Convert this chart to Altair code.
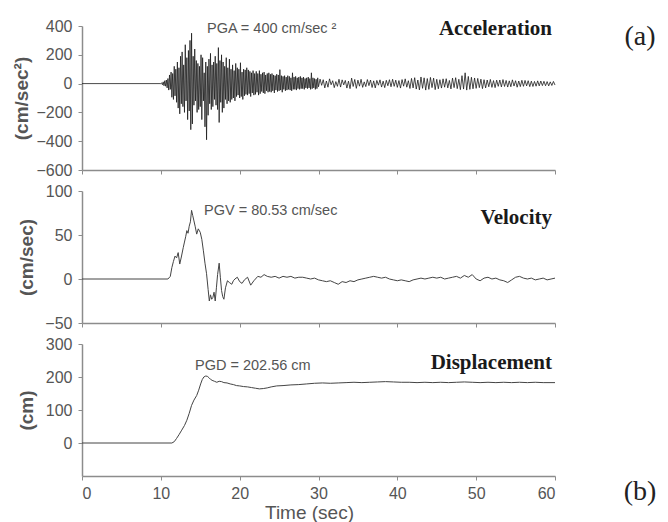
import altair as alt
import pandas as pd

# ---------------- data ----------------
# Acceleration (cm/sec^2): quiet part, then 10.0-29.9 s every 0.1 s, then 30-60 s every 0.2 s
acc_quiet_t = [0.0, 9.9]
acc_quiet_v = [0, 0]
acc_strong = [
    0, 5, -8, 12, -15, 20, -18, 25, -30, 35,
    -45, 60, -40, 80, -95, 70, -110, 120, -85, 100,
    -130, 150, -170, 110, -210, 190, -140, 220, -160, 130,
    -200, 270, -120, 180, -250, 230, -190, 300, -320, 350,
    -280, 190, -150, 240, -120, 160, -200, 140, -180, 120,
    -160, 200, -250, 180, -120, 75, -300, 150, -390, 120,
    -220, 170, -140, 210, -180, 130, -160, 150, -110, 190,
    -150, 140, -180, 250, -270, 160, -130, 200, -200, 150,
    -170, 120, -110, 180, -140, 110, -120, 170, -130, 100,
    -110, 130, -100, 90, -120, 140, -90, 110, -80, 100,
    -100, 145, -90, 80, -110, 100, -85, 95, -75, 110,
    -80, 95, -70, 85, -90, 75, -65, 90, -80, 70,
    -75, 85, -60, 70, -80, 90, -70, 65, -55, 75,
    -65, 80, -70, 60, -50, 70, -60, 75, -55, 65,
    -60, 70, -50, 60, -65, 55, -45, 65, -55, 60,
    -50, 97, -45, 55, -60, 50, -40, 55, -50, 45,
    -45, 55, -40, 50, -45, 40, -50, 75, -40, 45,
    -40, 50, -45, 40, -35, 45, -40, 50, -35, 40,
    -35, 45, -40, 35, -30, 40, -35, 45, -30, 35,
    -40, 75, -35, 40, -30, 35, -40, 30, -35, 40,
]
acc_coda = [
    -22, 31, -12, 27, -30, 18, -25, 33, -8, 20,
    -28, 14, -19, 30, -24, 26, -9, 22, -31, 17,
    -35, 38, -20, 29, -33, 24, -18, 30, -26, 12,
    -21, 28, -14, 25, -27, 19, -30, 22, -11, 26,
    -24, 17, -28, 23, -15, 27, -22, 30, -19, 24,
    -26, 21, -31, 28, -18, 33, -25, 20, -34, 36,
    -30, 41, -38, 25, -44, 46, -33, 40, -45, 35,
    -40, 43, -28, 38, -42, 30, -36, 27, -31, 33,
    -25, 34, -30, 22, -37, 38, -28, 41, -35, 30,
    -42, 55, -38, 75, -45, 50, -40, 44, -36, 39,
    -33, 36, -28, 31, -35, 27, -30, 25, -22, 29,
    -26, 21, -28, 24, -19, 25, -23, 28, -20, 22,
    -24, 19, -22, 26, -17, 20, -25, 18, -21, 23,
    -19, 22, -16, 20, -21, 17, -20, 15, -18, 19,
    -16, 18, -14, 16, -15, 14, -16, 12, -13, 15,
    -10,
]

# Velocity (cm/sec)
vel_early_t = [0.0, 10.9, 11.2, 11.4, 11.6, 11.8, 12.0, 12.2, 12.4, 12.6, 12.85, 13.0,
               13.15, 13.3, 13.45, 13.6, 13.75, 13.9, 14.05, 14.2, 14.35, 14.55, 14.75,
               15.0, 15.2, 15.4, 15.6, 15.8, 16.0, 16.15, 16.3, 16.45, 16.6, 16.75, 16.9,
               17.05, 17.2, 17.4, 17.55, 17.7, 17.85, 18.0, 18.2, 18.45, 18.7, 19.0, 19.2,
               19.4, 19.7, 20.0, 20.3, 20.6, 21.0, 21.4, 21.8, 22.3, 22.7, 23.1, 23.5]
vel_early_v = [0, 0, 3, 13, 20, 26, 24, 30, 17, 25, 36, 42,
               48, 55, 52, 60, 65, 78, 72, 66, 60, 51, 57,
               53, 45, 32, 18, 6, -12, -25, -18, -23, -21, -15, -25,
               -10, 5, 18, 2, -13, -20, -23, -10, -2, -4, -6, -2,
               0, 2, -3, -5, -1, 2, -7, -2, 3, 2, 5, 3]
# 24-60 s every 0.5 s
vel_late = [2, 3, 1, 3, 2, 3, 1, 2, 2, 1, 0, 1, -1, -2, -3, -2, -4, -6, -3, -4,
            -2, -3, -1, 0, 1, 2, 3, 2, 1, 2, 0, -1, -2, -1, -2, -3, -1, 0, 1, 0,
            1, 2, 1, 2, 0, 1, 2, 3, 1, 4, 2, 5, 0, -2, 1, 2, 0, 1, -1, -2,
            -4, -1, 2, 3, 1, 0, 1, -1, 0, 1, -1, 0, 1]

# Displacement (cm)
disp_t = [0.0, 11.4, 11.7, 12.0, 12.3, 12.65, 13.0, 13.3, 13.6, 13.9, 14.2, 14.55, 14.8,
          15.05, 15.25, 15.45, 15.7, 15.9, 16.1, 16.3, 16.5, 16.8, 17.1, 17.4, 17.7, 18.0,
          18.4, 18.8, 19.2, 19.6, 20.0, 20.5, 21.0, 21.5, 22.0, 22.5, 23.0, 23.5, 24.0,
          24.7, 25.5, 26.5, 27.5, 28.5, 29.5, 30.5, 31.5, 32.5, 33.5, 34.5, 35.5, 36.5,
          37.5, 38.5, 39.5, 40.5, 41.5, 42.5, 43.5, 44.5, 45.5, 46.5, 47.5, 48.5, 49.5,
          50.5, 51.5, 52.5, 53.5, 54.5, 55.5, 56.5, 57.5, 58.5, 60.0]
disp_v = [0, 0, 4, 14, 25, 39, 53, 69, 90, 114, 130, 144, 160,
          179, 192, 200, 203, 202, 198, 193, 190, 187, 184, 187, 186, 183,
          182, 179, 177, 174, 173, 171, 170, 168, 166, 164, 165, 167, 170,
          173, 174, 176, 177, 179, 181, 182, 181, 182, 183, 184, 183, 184,
          185, 186, 185, 184, 184, 183, 184, 183, 184, 183, 184, 185, 184,
          183, 184, 183, 184, 183, 184, 183, 184, 183, 183]

x_ticks = [0, 10, 20, 30, 40, 50, 60]

# ---------------- tables ----------------
acc_t = acc_quiet_t + [round(10.0 + 0.1 * i, 2) for i in range(len(acc_strong))] \
    + [round(30.0 + 0.2 * i, 2) for i in range(len(acc_coda))]
acc_v = acc_quiet_v + acc_strong + acc_coda
acc_df = pd.DataFrame({"t": acc_t, "v": acc_v})

vel_t = vel_early_t + [round(24.0 + 0.5 * i, 2) for i in range(len(vel_late))]
vel_v = vel_early_v + vel_late
vel_df = pd.DataFrame({"t": vel_t, "v": vel_v})

disp_df = pd.DataFrame({"t": disp_t, "v": disp_v})

W = 473
SANS = "Liberation Sans"
SERIF = "Liberation Serif"
one = pd.DataFrame({"k": [0]})


def panel(df, ydom, yvals, ytitle, title_x, h, color, sw, name, name_y,
          ann, ann_x, ann_y, bottom=False, tag=None, tag_y=0):
    xaxis = alt.Axis(values=x_ticks, labels=bottom, title="Time (sec)" if bottom else None,
                     titleX=227, titlePadding=2, labelPadding=5, titleFontWeight="normal",
                     titleFontSize=19)
    line = alt.Chart(df).mark_line(color=color, strokeWidth=sw).encode(
        x=alt.X("t:Q", scale=alt.Scale(domain=[0, 60], nice=False, zero=False), axis=xaxis),
        y=alt.Y("v:Q", scale=alt.Scale(domain=ydom, nice=False, zero=False),
                axis=alt.Axis(values=yvals, title=ytitle, titleX=title_x,
                              titleBaseline="middle", labelPadding=6)),
    )
    lbl = alt.Chart(one).mark_text(text=name, align="right", baseline="middle", font=SERIF,
                                   fontWeight="bold", fontSize=21, color="#1a1a1a").encode(
        x=alt.value(W - 3), y=alt.value(name_y))
    a = alt.Chart(one).mark_text(text=ann, align="left", baseline="middle", font=SANS,
                                 fontSize=14.5, color="#555555").encode(
        x=alt.value(ann_x), y=alt.value(ann_y))
    layers = [line, lbl, a]
    if tag:
        layers.append(alt.Chart(one).mark_text(text=tag, font=SERIF, fontSize=28, color="#222",
                                               align="center", baseline="middle").encode(
            x=alt.value(558), y=alt.value(tag_y)))
    return alt.layer(*layers).properties(width=W, height=h)


top = panel(acc_df, [-600, 400], [-600, -400, -200, 0, 200, 400], "(cm/sec²)", -61, 144,
            "#1c1c1c", 0.8, "Acceleration", 3, "PGA = 400 cm/sec ²", 125, 3,
            tag="(a)", tag_y=11)

mid = panel(vel_df, [-50, 100], [-50, 0, 50, 100], "(cm/sec)", -56, 132,
            "#444444", 1.0, "Velocity", 27, "PGV = 80.53 cm/sec", 122, 20)

bot = panel(disp_df, [-100, 300], [0, 100, 200, 300], "(cm)", -56, 132,
            "#444444", 1.0, "Displacement", 19, "PGD = 202.56 cm", 113, 22, bottom=True,
            tag="(b)", tag_y=148)

chart = alt.vconcat(top, mid, bot, spacing=21, bounds="flush").properties(
    padding={"left": 4, "top": 10, "right": 0, "bottom": 0}
).configure_view(stroke=None).configure_axis(
    grid=False,
    domainColor="#8c8c8c", domainWidth=1.5,
    tickColor="#8c8c8c", tickSize=4, tickWidth=1,
    labelFont=SANS, labelFontSize=16, labelColor="#555555",
    titleFont=SANS, titleFontSize=19, titleFontWeight="bold", titleColor="#555555",
)

chart.save("out.html", embed_options={"renderer": "svg", "actions": False})
